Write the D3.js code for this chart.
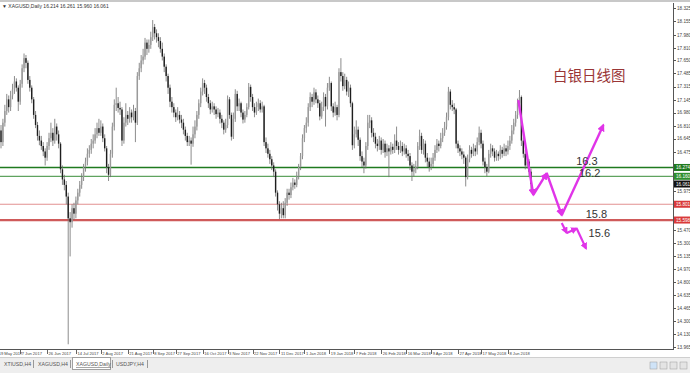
<!DOCTYPE html>
<html lang="zh">
<head>
<meta charset="UTF-8">
<title>白银日线图 XAGUSD Daily</title>
<style>
  body { margin: 0; background: #fff; }
  svg { display: block; font-family: "Liberation Sans", "DejaVu Sans", sans-serif; }
</style>
</head>
<body>
<script src="https://d3js.org/d3.v7.min.js"></script>
<script>

// daily closes (one per bar, left to right)
const closes = [
  16.60,16.85,17.00,17.15,17.05,17.20,17.28,17.38,17.30,17.12,
  17.35,17.55,17.68,17.62,17.40,17.30,17.15,16.95,16.82,16.68,
  16.62,16.55,16.48,16.40,16.55,16.65,16.72,16.62,16.80,16.70,
  16.58,16.25,16.12,16.05,15.90,15.62,15.57,15.75,15.68,15.85,
  15.95,16.05,16.15,16.28,16.35,16.45,16.50,16.58,16.62,16.70,
  16.78,16.72,16.80,16.65,16.52,16.28,16.18,16.45,16.80,17.08,
  17.10,17.04,17.02,16.62,16.85,16.95,16.90,16.98,16.92,17.00,
  16.85,17.45,17.55,17.65,17.70,17.88,17.80,17.85,17.95,18.08,
  18.00,17.95,17.90,17.80,17.70,17.57,17.45,17.30,17.12,17.05,
  16.98,16.92,16.95,16.89,16.85,16.76,16.68,16.60,16.62,16.58,
  16.70,16.80,16.95,17.10,17.25,17.36,17.30,17.18,17.10,17.02,
  17.06,17.02,16.96,16.98,16.90,16.85,16.76,16.82,17.15,16.95,
  16.67,16.90,17.22,17.06,17.10,16.98,16.89,16.95,17.05,17.31,
  17.18,17.05,16.98,17.05,17.10,17.02,17.06,16.60,16.52,16.45,
  16.38,16.30,16.22,15.95,15.80,15.68,15.75,15.66,15.82,15.95,
  15.92,16.02,16.08,16.05,16.16,16.28,16.42,16.65,16.78,16.85,
  17.05,17.18,17.12,17.24,17.15,17.10,16.93,17.05,17.18,17.06,
  17.30,17.36,17.06,16.98,17.05,16.95,17.50,17.45,17.32,17.40,
  17.25,17.30,17.10,16.56,16.70,16.76,16.63,16.42,16.35,16.30,
  16.55,16.85,16.88,16.72,16.67,16.58,16.55,16.62,16.50,16.58,
  16.47,16.52,16.48,16.54,16.50,16.62,16.55,16.50,16.55,16.48,
  16.52,16.45,16.42,16.30,16.22,16.25,16.28,16.55,16.68,16.50,
  16.58,16.40,16.35,16.28,16.32,16.40,16.50,16.58,16.55,16.65,
  16.72,16.80,16.92,17.25,17.08,17.05,17.02,16.58,16.52,16.48,
  16.44,16.40,16.15,16.38,16.50,16.45,16.52,16.48,16.60,16.72,
  16.58,16.35,16.28,16.22,16.45,16.52,16.48,16.40,16.45,16.42,
  16.50,16.45,16.52,16.48,16.55,16.62,16.75,16.85,16.95,17.10,
  17.18,16.62,16.45,16.30,16.35,16.22,16.06
];

const highs = [
  16.82,16.90,17.08,17.22,17.20,17.26,17.35,17.45,17.42,17.33,
  17.40,17.60,17.74,17.72,17.65,17.45,17.33,17.18,17.00,16.86,
  16.75,16.68,16.60,16.52,16.60,16.72,16.85,16.78,16.90,16.84,
  16.75,16.60,16.30,16.18,16.10,15.95,15.70,15.80,15.82,15.90,
  16.00,16.10,16.20,16.32,16.40,16.52,16.56,16.64,16.70,16.78,
  16.85,16.90,16.88,16.84,16.70,16.55,16.32,16.50,16.85,17.15,
  17.30,17.18,17.12,17.05,16.92,17.10,17.00,17.05,17.02,17.08,
  17.04,17.50,17.62,17.72,17.80,17.94,17.92,17.92,18.02,18.17,
  18.12,18.05,18.00,17.95,17.88,17.74,17.60,17.48,17.34,17.18,
  17.10,17.02,17.05,17.00,16.95,16.90,16.80,16.72,16.68,16.66,
  16.80,16.88,17.00,17.15,17.30,17.42,17.40,17.34,17.22,17.14,
  17.12,17.10,17.06,17.04,17.02,16.95,16.88,16.90,17.20,17.18,
  16.98,16.98,17.28,17.26,17.16,17.12,17.02,17.00,17.10,17.36,
  17.34,17.22,17.10,17.12,17.16,17.14,17.12,17.08,16.66,16.58,
  16.50,16.42,16.34,16.25,15.98,15.84,15.82,15.84,15.88,16.00,
  16.00,16.08,16.14,16.12,16.22,16.32,16.46,16.70,16.82,16.92,
  17.10,17.24,17.22,17.30,17.28,17.20,17.14,17.12,17.24,17.22,
  17.36,17.44,17.38,17.10,17.12,17.08,17.55,17.68,17.50,17.48,
  17.44,17.38,17.34,17.12,16.80,16.88,16.80,16.66,16.48,16.40,
  16.60,16.95,16.95,16.92,16.78,16.72,16.64,16.68,16.66,16.64,
  16.62,16.58,16.56,16.60,16.58,16.70,16.80,16.60,16.62,16.60,
  16.58,16.56,16.50,16.46,16.34,16.32,16.36,16.60,16.76,16.72,
  16.64,16.62,16.46,16.40,16.40,16.46,16.56,16.64,16.62,16.72,
  16.78,16.86,16.98,17.31,17.28,17.14,17.10,17.04,16.62,16.56,
  16.52,16.48,16.42,16.44,16.56,16.54,16.58,16.56,16.66,16.80,
  16.76,16.62,16.40,16.32,16.50,16.58,16.56,16.52,16.50,16.48,
  16.56,16.54,16.58,16.56,16.62,16.68,16.82,16.90,17.00,17.16,
  17.27,17.20,16.66,16.50,16.42,16.38,16.26
];

const lows = [
  16.52,16.55,16.80,16.95,16.98,17.00,17.15,17.22,17.25,17.00,
  17.08,17.30,17.50,17.55,17.35,17.25,17.10,16.90,16.78,16.62,
  16.56,16.50,16.42,16.30,16.36,16.50,16.60,16.55,16.58,16.62,
  16.52,16.20,16.05,15.98,15.80,14.00,15.13,15.50,15.60,15.62,
  15.80,15.90,16.00,16.10,16.22,16.30,16.40,16.45,16.52,16.58,
  16.65,16.68,16.68,16.60,16.48,16.20,16.10,16.15,16.40,16.75,
  17.00,16.98,16.95,16.55,16.58,16.80,16.82,16.85,16.85,16.88,
  16.60,16.82,17.40,17.50,17.60,17.66,17.72,17.75,17.80,17.90,
  17.92,17.88,17.82,17.75,17.65,17.50,17.38,17.22,17.05,16.98,
  16.92,16.86,16.88,16.84,16.78,16.70,16.62,16.55,16.55,16.31,
  16.54,16.65,16.75,16.90,17.05,17.20,17.22,17.12,17.04,16.96,
  16.98,16.95,16.90,16.92,16.84,16.78,16.70,16.72,16.78,16.90,
  16.62,16.64,16.86,17.00,17.00,16.92,16.84,16.85,16.92,17.02,
  17.12,17.00,16.92,16.95,17.00,16.98,16.98,16.55,16.46,16.40,
  16.32,16.24,16.15,15.90,15.72,15.61,15.62,15.62,15.62,15.78,
  15.86,15.88,15.98,16.00,16.02,16.12,16.24,16.38,16.60,16.72,
  16.80,17.00,17.05,17.08,17.10,17.04,16.88,16.90,17.00,16.80,
  17.02,17.26,17.00,16.92,16.94,16.88,16.92,17.38,17.26,17.28,
  17.20,17.18,17.05,16.50,16.52,16.66,16.55,16.36,16.28,16.20,
  16.26,16.50,16.78,16.66,16.60,16.52,16.48,16.50,16.44,16.46,
  16.40,16.42,16.15,16.44,16.45,16.46,16.50,16.44,16.46,16.42,
  16.44,16.40,16.36,16.24,16.10,16.16,16.20,16.25,16.50,16.45,
  16.44,16.34,16.28,16.22,16.24,16.28,16.36,16.46,16.48,16.52,
  16.60,16.68,16.76,16.88,17.02,17.00,16.96,16.52,16.46,16.42,
  16.38,16.32,16.03,16.12,16.34,16.40,16.42,16.42,16.44,16.56,
  16.52,16.30,16.20,16.16,16.20,16.40,16.42,16.35,16.36,16.36,
  16.38,16.40,16.42,16.42,16.44,16.50,16.58,16.70,16.80,16.90,
  17.05,16.55,16.40,16.25,16.26,16.15,15.96
];
const firstOpen = 16.75;

// time axis labels and the bar they sit on
const dateLabels = ["19 May 2017","7 Jun 2017","26 Jun 2017","14 Jul 2017","2 Aug 2017","21 Aug 2017",
  "8 Sep 2017","27 Sep 2017","16 Oct 2017","3 Nov 2017","22 Nov 2017","11 Dec 2017","1 Jan 2018",
  "19 Jan 2018","7 Feb 2018","26 Feb 2018","16 Mar 2018","9 Apr 2018","27 Apr 2018","17 May 2018","8 Jun 2018"];
const dateBars = [-2,10,24,39,52,66,79,91,105,118,131,145,158,171,184,198,211,224,238,250,264];

// price axis tick labels
const priceTicks = ["18.325","18.155","17.980","17.810","17.650","17.485","17.315","17.145","16.980",
  "16.810","16.645","16.475","15.975","15.470","15.300","15.135","14.970","14.800","14.635",
  "14.465","14.300","14.130","13.965"];

// horizontal levels drawn on the chart
const levels = [
  { price: 16.274, label: "16.274", color: "#1f7a1f", tag: "#1f7a1f", w: 1.6 },
  { price: 16.160, label: "16.160", color: "#5fa35f", tag: "#2f8f2f", w: 1.1 },
  { price: 15.801, label: "15.801", color: "#e29090", tag: "#d93a3a", w: 1.1 },
  { price: 15.598, label: "15.598", color: "#cf5a5a", tag: "#d93a3a", w: 2.2 }
];
const bidPrice = 16.061;

// hand drawn forecast arrows [bar, price]
const arrowsMain = [[269.4,17.14],[277.2,15.92],[284.2,16.20],[292.0,15.66],[313.7,16.82]];
const arrowsAlt = [[292.0,15.56],[294.6,15.43],[299.8,15.49],[304.7,15.23]];
const notes = [
  { bar: 299.5, price: 16.30, text: "16.3" },
  { bar: 301.0, price: 16.15, text: "16.2" },
  { bar: 304.5, price: 15.63, text: "15.8" },
  { bar: 306.0, price: 15.38, text: "15.6" }
];

const W = 690, H = 373;
const chart = { left: 0, right: 673, top: 3, bottom: 349 };

const x = d3.scaleLinear().domain([0, 276]).range([1, 531]);
const y = d3.scaleLinear().domain([13.965, 18.325]).range([347, 8]);

const bars = closes.map((c, i) => ({
  i: i,
  o: i ? closes[i - 1] : firstOpen,
  h: highs[i],
  l: lows[i],
  c: c
}));

const svg = d3.select("body").append("svg").attr("width", W).attr("height", H);

const defs = svg.append("defs");
defs.append("clipPath").attr("id", "plot")
  .append("rect").attr("x", 0).attr("y", chart.top).attr("width", chart.right).attr("height", chart.bottom - chart.top);
defs.append("clipPath").attr("id", "timeclip")
  .append("rect").attr("x", 0).attr("y", chart.bottom).attr("width", chart.right).attr("height", 8);

defs.append("marker")
  .attr("id", "head").attr("viewBox", "0 0 10 10").attr("refX", 8).attr("refY", 5)
  .attr("markerWidth", 3.2).attr("markerHeight", 3.2).attr("orient", "auto")
  .append("path").attr("d", "M0,0 L10,5 L0,10 z").attr("fill", "#e034e8");

// window frame
svg.append("rect").attr("x", 0).attr("y", 0).attr("width", W).attr("height", 2).attr("fill", "#c8c8c8");
svg.append("line").attr("x1", chart.right + 0.5).attr("x2", chart.right + 0.5)
  .attr("y1", chart.top).attr("y2", chart.bottom).attr("stroke", "#555").attr("stroke-width", 1);
svg.append("line").attr("x1", 0).attr("x2", chart.right + 1)
  .attr("y1", chart.bottom + 0.5).attr("y2", chart.bottom + 0.5).attr("stroke", "#555").attr("stroke-width", 1);

svg.append("text").attr("x", 2).attr("y", 8)
  .attr("font-size", 5).attr("fill", "#333")
  .text("▼ XAGUSD,Daily  16.214 16.261 15.960 16.061");

const plot = svg.append("g").attr("clip-path", "url(#plot)");

// levels
plot.selectAll(".lvl").data(levels).enter().append("line")
  .attr("x1", 0).attr("x2", chart.right)
  .attr("y1", d => y(d.price)).attr("y2", d => y(d.price))
  .attr("stroke", d => d.color).attr("stroke-width", d => d.w);

// candles
const candle = plot.selectAll(".bar").data(bars).enter().append("g");
candle.append("line")
  .attr("x1", d => x(d.i)).attr("x2", d => x(d.i))
  .attr("y1", d => y(Math.max(d.h, d.o, d.c))).attr("y2", d => y(Math.min(d.l, d.o, d.c)))
  .attr("stroke", "#6e6e6e").attr("stroke-width", 0.8);
candle.append("rect")
  .attr("x", d => x(d.i) - 0.7).attr("width", 1.4)
  .attr("y", d => y(Math.max(d.o, d.c)))
  .attr("height", d => Math.max(0.8, Math.abs(y(d.o) - y(d.c))))
  .attr("fill", d => d.c >= d.o ? "#9a9a9a" : "#1e1e1e");

// forecast arrows
const line = d3.line().x(d => x(d[0])).y(d => y(d[1]));
function drawArrows(pts, w) {
  for (let k = 0; k < pts.length - 1; k++) {
    plot.append("path").attr("d", line([pts[k], pts[k + 1]]))
      .attr("stroke", "#e034e8").attr("stroke-width", w).attr("fill", "none")
      .attr("marker-end", "url(#head)");
  }
}
drawArrows(arrowsMain, 2.4);
drawArrows(arrowsAlt, 2.2);

plot.selectAll(".note").data(notes).enter().append("text")
  .attr("x", d => x(d.bar)).attr("y", d => y(d.price))
  .attr("font-size", 11).attr("fill", "#333").text(d => d.text);

svg.append("text").attr("x", 553).attr("y", 81)
  .attr("font-family", "Noto Sans CJK SC").attr("font-size", 14.5).attr("fill", "#9a3636")
  .text("白银日线图");

// price axis
const axisG = svg.append("g");
axisG.selectAll(".pt").data(priceTicks).enter().append("line")
  .attr("x1", chart.right).attr("x2", chart.right + 3)
  .attr("y1", d => Math.round(y(+d)) + 0.5).attr("y2", d => Math.round(y(+d)) + 0.5)
  .attr("stroke", "#555");
axisG.selectAll(".pl").data(priceTicks).enter().append("text")
  .attr("x", chart.right + 4).attr("y", d => y(+d) + 1.8)
  .attr("font-size", 4.6).attr("fill", "#444").text(d => d);

const tags = levels.map(d => ({ price: d.price, label: d.label, color: d.tag }))
  .concat([{ price: bidPrice, label: "16.061", color: "#111" }]);
const tag = axisG.selectAll(".tag").data(tags).enter().append("g");
tag.append("rect").attr("x", chart.right + 1).attr("y", d => y(d.price) - 3.5)
  .attr("width", 16).attr("height", 7).attr("fill", d => d.color);
tag.append("text").attr("x", chart.right + 3).attr("y", d => y(d.price) + 1.8)
  .attr("font-size", 4.6).attr("fill", "#fff").text(d => d.label);

// time axis
const timeG = svg.append("g").attr("clip-path", "url(#timeclip)");
timeG.selectAll(".tt").data(dateBars).enter().append("line")
  .attr("x1", d => Math.round(x(d)) + 0.5).attr("x2", d => Math.round(x(d)) + 0.5)
  .attr("y1", chart.bottom + 1).attr("y2", chart.bottom + 5).attr("stroke", "#666");
timeG.selectAll(".tl").data(dateBars).enter().append("text")
  .attr("x", d => x(d) + 1.5).attr("y", chart.bottom + 6)
  .attr("font-size", 4.1).attr("fill", "#444").text((d, k) => dateLabels[k]);

// bottom tab strip
svg.append("rect").attr("x", 0).attr("y", 357).attr("width", W).attr("height", 16).attr("fill", "#eeeeee");
svg.append("line").attr("x1", 0).attr("x2", W).attr("y1", 357.5).attr("y2", 357.5).attr("stroke", "#cfcfcf");
svg.append("rect").attr("x", 72.5).attr("y", 357.5).attr("width", 38).attr("height", 12)
  .attr("fill", "#fff").attr("stroke", "#a0a0a0");
const tabs = [["XTIUSD,H4", 4], ["XAGUSD,H4", 38], ["XAGUSD,Daily", 76], ["USDJPY,H4", 116]];
svg.selectAll(".tab").data(tabs).enter().append("text")
  .attr("x", d => d[1]).attr("y", 366).attr("font-size", 5.2).attr("fill", "#555")
  .attr("text-decoration", d => d[0] === "XAGUSD,Daily" ? "underline" : null)
  .text(d => d[0]);
[33, 70, 112, 147].forEach(px => {
  svg.append("line").attr("x1", px + 0.5).attr("x2", px + 0.5).attr("y1", 360).attr("y2", 368).attr("stroke", "#999");
});
[650, 660, 670, 680].forEach((px, k) => {
  svg.append("rect").attr("x", px).attr("y", 362).attr("width", 7).attr("height", 7)
    .attr("fill", k === 0 ? "#cfe3f7" : "#e4e4e4").attr("stroke", "#9a9a9a").attr("stroke-width", 0.5);
});

</script>
</body>
</html>
